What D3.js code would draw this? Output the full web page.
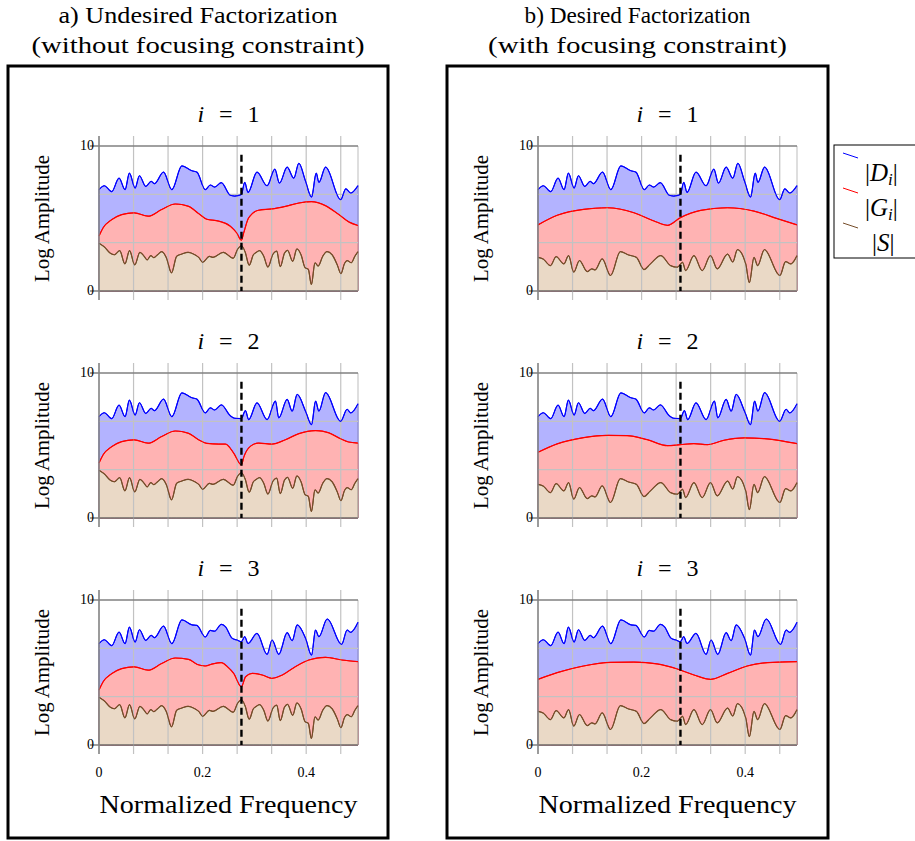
<!DOCTYPE html>
<html>
<head>
<meta charset="utf-8">
<script src="https://cdn.jsdelivr.net/npm/d3@7"></script>
<style>
  body { margin: 0; background: #fff; }
  text { font-family: "Liberation Serif", "DejaVu Serif", serif; fill: #000; }
</style>
</head>
<body>
<svg id="chart" width="915" height="841"></svg>
<script>
// observed spectra |D_i| (same in both factorizations), [frequency, log amplitude]
const dMag1 = [[0,6.99],[0.0103,7.26],[0.0245,6.85],[0.0387,7.79],[0.0503,6.99],[0.0587,8.13],[0.0697,7.1],[0.078,7.95],[0.0903,7.21],[0.1006,7.56],[0.1071,7.4],[0.1245,8.2],[0.1406,6.99],[0.16,8.63],[0.1794,8.29],[0.189,8.2],[0.2052,6.99],[0.2148,7.31],[0.2232,7.17],[0.2361,7.47],[0.2535,6.6],[0.262,6.55],[0.2748,6.65],[0.2813,7.49],[0.2877,6.8],[0.305,8.2],[0.3245,7.26],[0.3394,8.4],[0.3484,7.44],[0.3632,8.54],[0.3761,7.78],[0.3858,8.81],[0.3985,7.6],[0.4103,6.48],[0.4194,8.13],[0.4245,7.49],[0.4374,8.54],[0.4665,6.3],[0.4765,7.05],[0.4858,6.76],[0.5,7.27]];
const dMag2 = [[0,6.99],[0.0103,7.26],[0.0245,6.85],[0.0387,7.79],[0.0503,6.99],[0.0587,8.13],[0.0697,7.1],[0.078,7.95],[0.0903,7.21],[0.1006,7.56],[0.1071,7.4],[0.1245,8.2],[0.1406,6.99],[0.16,8.63],[0.1794,8.29],[0.189,8.2],[0.2052,7.25],[0.2148,7.6],[0.2232,7.45],[0.2361,7.8],[0.2535,7.05],[0.262,6.88],[0.2748,6.86],[0.2826,7.41],[0.289,6.79],[0.305,7.94],[0.3245,6.79],[0.3406,8.06],[0.3471,6.91],[0.3632,8.18],[0.3729,7.37],[0.3826,8.52],[0.3987,7.37],[0.4103,6.44],[0.4181,8.06],[0.4245,7.37],[0.4374,8.64],[0.4665,6.67],[0.479,7.5],[0.486,7.25],[0.5,7.88]];
const dMag3 = [[0,6.99],[0.0103,7.26],[0.0245,6.85],[0.0387,7.79],[0.0503,6.99],[0.0587,8.13],[0.0697,7.1],[0.078,7.95],[0.0903,7.21],[0.1006,7.56],[0.1071,7.4],[0.1245,8.2],[0.1406,6.99],[0.16,8.63],[0.1794,8.29],[0.189,8.25],[0.2052,7.45],[0.2148,7.9],[0.2232,7.85],[0.2361,8.32],[0.244,8.16],[0.257,7.36],[0.2665,7.24],[0.2748,7.13],[0.2813,7.47],[0.2877,7.0],[0.305,7.7],[0.3245,6.25],[0.3342,7.24],[0.3471,6.25],[0.3632,7.75],[0.3729,7.2],[0.3826,8.28],[0.3987,7.36],[0.4103,6.2],[0.418,7.93],[0.4245,7.47],[0.4406,8.69],[0.4684,6.94],[0.479,7.93],[0.4858,7.77],[0.5,8.46]];

// a) undesired factorization: filters |G_i| and source |S|
const gUndesired1 = [[0,3.79],[0.008,4.36],[0.025,4.93],[0.044,5.27],[0.068,5.39],[0.095,5.16],[0.121,5.62],[0.147,6.0],[0.173,5.84],[0.192,5.35],[0.208,4.95],[0.231,4.82],[0.2535,4.47],[0.266,4.0],[0.2748,3.5],[0.2794,4.02],[0.289,5.05],[0.308,5.57],[0.334,5.66],[0.36,5.84],[0.386,6.07],[0.41,6.16],[0.437,5.89],[0.463,5.27],[0.483,4.75],[0.5,4.52]];
const gUndesired2 = [[0,3.79],[0.008,4.36],[0.025,4.93],[0.044,5.27],[0.068,5.39],[0.095,5.16],[0.121,5.62],[0.147,6.0],[0.173,5.84],[0.192,5.4],[0.208,5.15],[0.231,5.1],[0.244,5.1],[0.26,4.48],[0.2748,3.67],[0.28,4.25],[0.292,4.94],[0.308,5.17],[0.334,5.1],[0.36,5.4],[0.386,5.82],[0.418,6.03],[0.444,5.87],[0.466,5.47],[0.482,5.24],[0.5,5.17]];
const gUndesired3 = [[0,3.79],[0.008,4.36],[0.025,4.93],[0.044,5.27],[0.068,5.39],[0.095,5.16],[0.121,5.62],[0.147,6.0],[0.173,5.9],[0.19,5.55],[0.205,5.45],[0.22,5.6],[0.236,5.68],[0.248,5.4],[0.26,4.94],[0.2748,4.02],[0.283,4.71],[0.296,4.94],[0.315,4.83],[0.334,4.6],[0.354,4.83],[0.379,5.4],[0.405,5.86],[0.437,6.05],[0.469,5.86],[0.5,5.75]];
const sUndesired = [[0,3.3],[0.01,3.05],[0.022,2.6],[0.03,2.5],[0.04,2.78],[0.05,1.87],[0.059,2.78],[0.069,1.8],[0.079,2.67],[0.088,2.35],[0.093,2.14],[0.1,2.44],[0.106,2.3],[0.113,2.5],[0.121,2.71],[0.13,2.3],[0.14,1.25],[0.15,2.4],[0.16,2.55],[0.172,2.67],[0.185,2.5],[0.193,2.3],[0.2,1.98],[0.213,2.39],[0.22,2.32],[0.24,2.67],[0.259,2.26],[0.268,2.9],[0.275,3.12],[0.282,2.7],[0.29,1.78],[0.298,2.5],[0.303,2.65],[0.31,2.78],[0.318,2.4],[0.326,1.65],[0.336,2.55],[0.343,2.75],[0.35,1.68],[0.358,2.6],[0.364,2.8],[0.374,2.05],[0.382,2.9],[0.39,2.5],[0.398,1.6],[0.404,1.5],[0.41,0.45],[0.417,1.95],[0.423,1.72],[0.432,2.4],[0.44,2.72],[0.45,2.5],[0.46,1.8],[0.467,1.2],[0.474,1.9],[0.479,2.1],[0.487,1.95],[0.494,2.4],[0.5,2.72]];

// b) desired factorization
const gDesired1 = [[0,4.56],[0.037,5.22],[0.088,5.63],[0.134,5.74],[0.185,5.4],[0.224,4.83],[0.25,4.53],[0.275,5.06],[0.314,5.56],[0.366,5.74],[0.417,5.51],[0.462,4.99],[0.5,4.56]];
const gDesired2 = [[0,4.53],[0.037,5.11],[0.088,5.54],[0.134,5.7],[0.172,5.68],[0.211,5.4],[0.25,4.99],[0.275,5.06],[0.301,5.13],[0.327,5.06],[0.359,5.36],[0.398,5.52],[0.437,5.47],[0.475,5.29],[0.5,5.13]];
const gDesired3 = [[0,4.53],[0.037,4.99],[0.088,5.45],[0.14,5.7],[0.185,5.72],[0.23,5.59],[0.269,5.24],[0.301,4.83],[0.333,4.53],[0.366,4.94],[0.404,5.45],[0.443,5.68],[0.5,5.75]];
const sDesired = [[0,2.32],[0.01,2.2],[0.024,1.75],[0.035,2.37],[0.05,1.87],[0.059,2.44],[0.069,1.3],[0.08,2.1],[0.095,1.34],[0.104,1.53],[0.11,1.45],[0.124,2.21],[0.14,1.07],[0.159,2.71],[0.175,2.48],[0.19,2.32],[0.2045,1.48],[0.217,1.87],[0.237,2.44],[0.256,1.75],[0.269,1.64],[0.279,1.98],[0.285,1.41],[0.301,2.44],[0.317,1.41],[0.333,2.44],[0.346,1.53],[0.366,2.55],[0.376,2.0],[0.385,2.85],[0.401,1.87],[0.408,0.57],[0.417,2.32],[0.424,1.75],[0.437,2.85],[0.467,1.07],[0.478,2.03],[0.488,1.87],[0.5,2.44]];

const xGrid = [0, 0.0667, 0.1333, 0.2, 0.2667, 0.3333, 0.4, 0.4667];
const xLabels = [0, 0.2, 0.4];
const yGrid = [0, 3.333, 6.667, 10];
const yLabels = [0, 10];
const focusFreq = 0.275;
const focusTop = 9.4;

const dMags = [dMag1, dMag2, dMag3];
const columns = [
  { title: ["a) Undesired Factorization", "(without focusing constraint)"], titleW: [279, 333], g: [gUndesired1, gUndesired2, gUndesired3], s: sUndesired, left: 99, box: [8, 66, 380, 772] },
  { title: ["b) Desired Factorization", "(with focusing constraint)"], titleW: [226, 299], g: [gDesired1, gDesired2, gDesired3], s: sDesired, left: 538, box: [447, 66, 381, 772] }
];
const rowTops = [146, 373, 600];
const plotW = 259, plotH = 145;

const svg = d3.select("#chart");

columns.forEach(col => {
  const cx = col.box[0] + col.box[2] / 2;
  col.title.forEach((s, k) => {
    svg.append("text").attr("x", cx).attr("y", 23 + k * 30).attr("text-anchor", "middle")
      .attr("textLength", col.titleW[k]).attr("lengthAdjust", "spacingAndGlyphs")
      .style("font-size", "24px").text(s);
  });
  svg.append("rect").attr("x", col.box[0]).attr("y", col.box[1])
    .attr("width", col.box[2]).attr("height", col.box[3])
    .attr("fill", "none").attr("stroke", "#000").attr("stroke-width", 3);

  rowTops.forEach((top, r) => {
    const x = d3.scaleLinear().domain([0, 0.5]).range([col.left, col.left + plotW]);
    const y = d3.scaleLinear().domain([0, 10]).range([top + plotH, top]);
    const g = svg.append("g");

    const area = d3.area().x(d => x(d[0])).y0(y(0)).y1(d => y(d[1])).curve(d3.curveMonotoneX);
    const line = d3.line().x(d => x(d[0])).y(d => y(d[1])).curve(d3.curveMonotoneX);

    const layers = [
      { data: dMags[r], fill: "#b3b3ff", stroke: "#0000ff" },
      { data: col.g[r], fill: "#ffb3b3", stroke: "#ff0000" },
      { data: col.s, fill: "#ead9c6", stroke: "#754c29" }
    ];
    layers.forEach(l => {
      g.append("path").attr("d", area(l.data)).attr("fill", l.fill).attr("stroke", l.stroke).attr("stroke-width", 1);
    });

    // grid
    g.selectAll(".vg").data(xGrid).enter().append("line")
      .attr("x1", d => x(d)).attr("x2", d => x(d))
      .attr("y1", top - 10).attr("y2", top + plotH + 9)
      .attr("stroke", "#c2c2c2").attr("stroke-width", 1.2);
    g.selectAll(".hg").data(yGrid.slice(1, 3)).enter().append("line")
      .attr("x1", x(0)).attr("x2", x(0.5))
      .attr("y1", d => y(d)).attr("y2", d => y(d))
      .attr("stroke", "#c2c2c2").attr("stroke-width", 1.2);
    g.append("line").attr("x1", x(0.5)).attr("x2", x(0.5)).attr("y1", y(10)).attr("y2", y(0))
      .attr("stroke", "#c8c8c8").attr("stroke-width", 1.2);

    layers.forEach(l => {
      g.append("path").attr("d", line(l.data)).attr("fill", "none").attr("stroke", l.stroke).attr("stroke-width", 1.2);
    });

    // frame
    g.append("line").attr("x1", x(0) - 9).attr("x2", x(0.5)).attr("y1", y(10)).attr("y2", y(10))
      .attr("stroke", "#808080").attr("stroke-width", 1.4);
    g.append("line").attr("x1", x(0) - 9).attr("x2", x(0.5)).attr("y1", y(0)).attr("y2", y(0))
      .attr("stroke", "#808080").attr("stroke-width", 1.4);
    g.append("line").attr("x1", x(0)).attr("x2", x(0)).attr("y1", top - 10).attr("y2", top + plotH + 9)
      .attr("stroke", "#808080").attr("stroke-width", 1.4);

    // focusing line
    g.append("line").attr("x1", x(focusFreq)).attr("x2", x(focusFreq))
      .attr("y1", y(focusTop)).attr("y2", y(0))
      .attr("stroke", "#000").attr("stroke-width", 2.4).attr("stroke-dasharray", "7,4");

    g.selectAll(".yl").data(yLabels).enter().append("text")
      .attr("x", x(0) - 5).attr("y", d => y(d) + 4).attr("text-anchor", "end")
      .style("font-size", "14px").text(d => d);

    g.append("text").attr("transform", `translate(${col.left - 50},${top + plotH / 2}) rotate(-90)`)
      .attr("text-anchor", "middle").attr("textLength", 127).attr("lengthAdjust", "spacingAndGlyphs")
      .style("font-size", "22px").text("Log Amplitude");

    const t = g.append("text").attr("x", x(0.25)).attr("y", top - 24).attr("text-anchor", "middle")
      .style("font-size", "24px").attr("textLength", 62).attr("lengthAdjust", "spacing");
    t.append("tspan").style("font-style", "italic").text("i");
    t.append("tspan").text(" = " + (r + 1));

    if (r === 2) {
      g.selectAll(".xl").data(xLabels).enter().append("text")
        .attr("x", d => x(d)).attr("y", top + plotH + 32).attr("text-anchor", "middle")
        .style("font-size", "14px").text(d => d);
      g.append("text").attr("x", x(0.25)).attr("y", top + plotH + 68).attr("text-anchor", "middle")
        .attr("textLength", 258).attr("lengthAdjust", "spacingAndGlyphs")
        .style("font-size", "25px").text("Normalized Frequency");
    }
  });
});

// legend
const legendItems = [
  { base: "D", color: "#0000ff" },
  { base: "G", color: "#ff0000" },
  { base: "S", color: "#754c29" }
];
const lg = svg.append("g");
lg.append("rect").attr("x", 834).attr("y", 145).attr("width", 90).attr("height", 113)
  .attr("fill", "#fff").attr("stroke", "#000").attr("stroke-width", 1);
legendItems.forEach((d, i) => {
  const yy = 153 + i * 35;
  lg.append("line").attr("x1", 843).attr("x2", 858).attr("y1", yy).attr("y2", yy + 5)
    .attr("stroke", d.color).attr("stroke-width", 1);
  const t = lg.append("text").attr("x", i < 2 ? 865 : 872).attr("y", yy + 28)
    .style("font-size", "25px");
  t.append("tspan").text("|");
  t.append("tspan").style("font-style", "italic").text(d.base);
  if (i < 2) t.append("tspan").style("font-style", "italic").style("font-size", "17px").attr("dy", 4).text("i");
  t.append("tspan").attr("dy", i < 2 ? -4 : 0).text("|");
});
</script>
</body>
</html>
